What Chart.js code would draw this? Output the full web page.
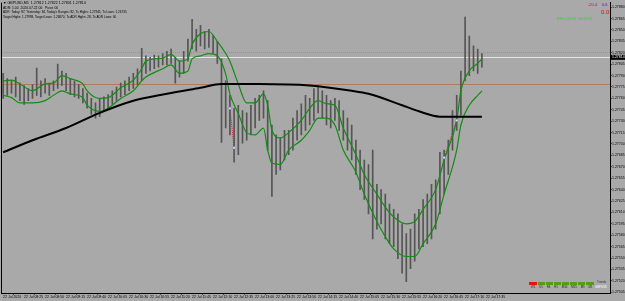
<!DOCTYPE html>
<html><head><meta charset="utf-8">
<script src="https://cdn.jsdelivr.net/npm/chart.js@4.4.0/dist/chart.umd.min.js"></script>
<style>
html,body{margin:0;padding:0;background:#a9a9a9;}
#wrap{position:relative;width:625px;height:301px;overflow:hidden;background:#a9a9a9;}
canvas{position:absolute;left:0;top:0;}
.t{position:absolute;font-family:"Liberation Sans",Arial,sans-serif;white-space:nowrap;line-height:1;}
.r{position:absolute;}
</style></head><body>
<div id="wrap">
<canvas id="c" width="625" height="301"></canvas>
<div class="t" style="left:3px;top:1.5px;font-size:3.6px;color:#000">▼ GBPUSD,M5 &nbsp;1.27812 1.27822 1.27801 1.27814</div>
<div class="t" style="left:3px;top:6.5px;font-size:3.4px;color:#000">ADR: 1.00 &nbsp;2020.07.22 00: &nbsp;Pivot: 00</div>
<div class="t" style="left:3px;top:11px;font-size:3.1px;color:#000">ADR: Today: 87, Yesterday: 84, Today's Ranges: 82, Tx Highs: 1.27945, Tx Lows: 1.26735</div>
<div class="t" style="left:3px;top:15.5px;font-size:3.1px;color:#000">Target Highs: 1.27998, Target Lows: 1.26870, Tx ADR Highs: 28, Tx ADR Lows: 60</div>
<div class="t" style="left:588px;top:3px;font-size:4px;color:#c01818">-20.4</div>
<div class="t" style="left:602px;top:3px;font-size:4px;color:#2222dd">0.6</div>
<div class="t" style="left:601px;top:8.5px;font-size:6px;color:#d01010">0.0</div>
<div class="t" style="left:557px;top:18px;font-size:3.8px;color:#22dd22">RSI:0.8256 &nbsp;94.8726</div>
<div class="r" style="left:529px;top:282px;width:8px;height:2.5px;background:#ee1111"></div>
<div class="r" style="left:538px;top:282px;width:7px;height:2.5px;background:#5a9a1a"></div>
<div class="r" style="left:546px;top:282px;width:7px;height:2.5px;background:#5a9a1a"></div>
<div class="r" style="left:554px;top:282px;width:7px;height:2.5px;background:#5a9a1a"></div>
<div class="r" style="left:562px;top:282px;width:7px;height:2.5px;background:#5a9a1a"></div>
<div class="r" style="left:570px;top:282px;width:7px;height:2.5px;background:#5a9a1a"></div>
<div class="r" style="left:578px;top:282px;width:7px;height:2.5px;background:#5a9a1a"></div>
<div class="r" style="left:586px;top:282px;width:8px;height:2.5px;background:#5a9a1a"></div>
<div class="t" style="left:597px;top:281px;font-size:3px;color:#333">Trends</div>
<div class="t" style="left:531px;top:286px;font-size:2.8px;color:#222;word-spacing:3.2px">W1 D1 H4 H1 M30 M15 M5 M1</div>
<div class="t" style="left:595px;top:286px;font-size:2.8px;color:#fff">GBPUSD</div>
</div>
<script>
// ---- data (prices) ----
const highs = [1.27793,1.27786,1.27783,1.27788,1.27780,1.27777,1.27773,1.27778,1.27800,1.27783,
1.27786,1.27780,1.27783,1.27805,1.27796,1.27793,1.27786,1.27783,1.27778,1.27773,
1.27767,1.27760,1.27754,1.27760,1.27762,1.27765,1.27770,1.27775,1.27780,1.27783,
1.27788,1.27793,1.27799,1.27826,1.27816,1.27814,1.27817,1.27816,1.27819,1.27822,
1.27825,1.27814,1.27809,1.27822,1.27838,1.27864,1.27851,1.27856,1.27848,1.27851,
1.27843,1.27835,1.27812,1.27783,1.27764,1.27747,1.27751,1.27744,1.27741,1.27751,
1.27760,1.27764,1.27770,1.27757,1.27725,1.27712,1.27708,1.27718,1.27718,1.27734,
1.27744,1.27753,1.27764,1.27760,1.27773,1.27777,1.27770,1.27764,1.27757,1.27760,
1.27757,1.27744,1.27734,1.27725,1.27705,1.27692,1.27679,1.27673,1.27692,1.27647,
1.27640,1.27634,1.27621,1.27614,1.27608,1.27595,1.27582,1.27588,1.27608,1.27614,
1.27627,1.27634,1.27647,1.27653,1.27689,1.27692,1.27705,1.27744,1.27764,1.27796,
1.27867,1.27842,1.27829,1.27825,1.27819];
const lows = [1.27760,1.27764,1.27767,1.27762,1.27757,1.27752,1.27757,1.27760,1.27764,1.27762,
1.27767,1.27764,1.27770,1.27773,1.27777,1.27770,1.27765,1.27762,1.27760,1.27754,
1.27747,1.27739,1.27734,1.27736,1.27744,1.27747,1.27752,1.27757,1.27762,1.27765,
1.27770,1.27773,1.27778,1.27783,1.27793,1.27796,1.27799,1.27801,1.27804,1.27804,
1.27806,1.27780,1.27788,1.27793,1.27809,1.27825,1.27822,1.27829,1.27825,1.27827,
1.27819,1.27806,1.27702,1.27721,1.27712,1.27676,1.27686,1.27701,1.27705,1.27712,
1.27721,1.27731,1.27734,1.27692,1.27631,1.27660,1.27666,1.27679,1.27686,1.27692,
1.27705,1.27712,1.27718,1.27725,1.27731,1.27741,1.27734,1.27725,1.27721,1.27731,
1.27718,1.27705,1.27692,1.27679,1.27660,1.27640,1.27627,1.27608,1.27575,1.27588,
1.27595,1.27575,1.27569,1.27565,1.27549,1.27530,1.27519,1.27536,1.27546,1.27562,
1.27565,1.27569,1.27575,1.27588,1.27608,1.27634,1.27660,1.27692,1.27718,1.27738,
1.27783,1.27790,1.27796,1.27793,1.27801];
const envIdx = [0,2,4,7,10,12,14,16,19,20,23,25,28,31,33,34,38,40,42,44,45,47,49,51,53,54,56,58,60,62,63,64,66,68,71,73,75,77,79,81,84,86,89,91,93,96,98,100,103,105,108,109,111,113,114];
const envUp = [1.27783,1.27784,1.27779,1.27770,1.27779,1.27780,1.27790,1.27786,1.27779,1.27770,
1.27760,1.27761,1.27774,1.27784,1.27799,1.27809,1.27813,1.27818,1.27809,1.27812,
1.27831,1.27845,1.27848,1.27835,1.27819,1.27809,1.27779,1.27754,1.27754,1.27766,
1.27751,1.27718,1.27708,1.27715,1.27731,1.27747,1.27757,1.27753,1.27751,1.27721,
1.27686,1.27660,1.27634,1.27617,1.27604,1.27595,1.27598,1.27614,1.27640,1.27679,
1.27731,1.27770,1.27796,1.27806,1.27812];
const envLo = [1.27764,1.27761,1.27754,1.27754,1.27757,1.27764,1.27770,1.27766,1.27761,1.27751,
1.27743,1.27747,1.27760,1.27770,1.27783,1.27788,1.27799,1.27804,1.27793,1.27796,
1.27812,1.27816,1.27819,1.27816,1.27792,1.27766,1.27740,1.27715,1.27712,1.27721,
1.27692,1.27675,1.27673,1.27692,1.27705,1.27718,1.27734,1.27734,1.27725,1.27692,
1.27663,1.27634,1.27598,1.27578,1.27562,1.27552,1.27552,1.27569,1.27595,1.27634,
1.27692,1.27725,1.27751,1.27764,1.27770];
const maIdx = [0,7,15,23,31,39,47,52,56,61,73,83,87,95,99,104,109,114];
const ma = [1.27689,1.27705,1.27721,1.27741,1.27757,1.27766,1.27774,1.27779,1.27779,1.27779,1.27777,1.27770,1.27766,1.27751,1.27743,1.27736,1.27736,1.27736];
const markIdx = [54,55,105,108];
const markPrice = [1.27747,1.27695,1.27682,1.27731];
const levelValues = [1.27821,1.27814,1.27779];   // ask-line, bid-line, pivot
const bidPrice = 1.27814;
const yTicks = [1.27880,1.27865,1.27850,1.27835,1.27820,1.27805,1.27790,1.27775,1.27760,1.27745,
1.27730,1.27715,1.27700,1.27685,1.27670,1.27655,1.27640,1.27625,1.27610,1.27595,
1.27580,1.27565,1.27550,1.27535,1.27520,1.27505];
const tickLabels = ["22 Jul 2020","22 Jul 08:25","22 Jul 08:50","22 Jul 09:15","22 Jul 09:40","22 Jul 10:05",
"22 Jul 10:30","22 Jul 10:55","22 Jul 11:20","22 Jul 11:45","22 Jul 12:10","22 Jul 12:35","22 Jul 13:00",
"22 Jul 13:25","22 Jul 13:50","22 Jul 14:15","22 Jul 14:40","22 Jul 15:05","22 Jul 15:30","22 Jul 15:55",
"22 Jul 16:20","22 Jul 16:45","22 Jul 17:10","22 Jul 17:35"];
const slots = 145;

// ---- build ----
const cats = Array.from({length:slots},(_,i)=>i);
function sparse(idx, vals){const a=new Array(slots).fill(null); idx.forEach((k,j)=>{a[k]=vals[j];}); return a;}
const FONT = {family:'"Liberation Sans", Arial, sans-serif', size:3.5};

const levelPlugin = {
  id:'levels',
  beforeDatasetsDraw(chart){
    const {ctx, chartArea:a, scales:{y}} = chart;
    const styles = [{c:'#8c90cc',d:[1,1],w:1},{c:'#e4e4e4',d:[],w:1},{c:'#b27a66',d:[],w:1}];
    ctx.save();
    levelValues.forEach((v,i)=>{
      const py = Math.round(y.getPixelForValue(v))+0.5;
      ctx.strokeStyle=styles[i].c; ctx.lineWidth=styles[i].w; ctx.setLineDash(styles[i].d);
      ctx.beginPath(); ctx.moveTo(a.left,py); ctx.lineTo(a.right,py); ctx.stroke();
    });
    ctx.strokeStyle='#d02020'; ctx.setLineDash([1,1]);
    const x = chart.scales.x;
    for(let k=0;k<markIdx.length;k+=2){
      ctx.beginPath();
      ctx.moveTo(x.getPixelForValue(markIdx[k]), y.getPixelForValue(markPrice[k]));
      ctx.lineTo(x.getPixelForValue(markIdx[k+1]), y.getPixelForValue(markPrice[k+1]));
      ctx.stroke();
    }
    ctx.restore();
  },
  afterDraw(chart){
    const {ctx, chartArea:a, scales:{y}} = chart;
    ctx.save();
    ctx.strokeStyle='#000'; ctx.lineWidth=1;
    ctx.beginPath(); ctx.moveTo(a.left+0.5,a.top); ctx.lineTo(a.left+0.5,a.bottom); ctx.stroke();
    const py = y.getPixelForValue(bidPrice);
    ctx.fillStyle='#000'; ctx.fillRect(a.right+1, py-2.5, 14, 5);
    ctx.fillStyle='#fff'; ctx.font='3.5px "Liberation Sans", Arial, sans-serif';
    ctx.textBaseline='middle'; ctx.fillText(bidPrice.toFixed(5), a.right+2, py);
    ctx.restore();
  }
};

new Chart(document.getElementById('c'),{
  type:'bar',
  data:{labels:cats, datasets:[
    {type:'bar', data:highs.map((h,i)=>[lows[i],h]), backgroundColor:'#555555', barThickness:1, grouped:false, order:5},
    {type:'line', data:sparse(envIdx,envUp), borderColor:'#138c13', borderWidth:1.2, pointRadius:0, spanGaps:true, cubicInterpolationMode:'monotone', order:2},
    {type:'line', data:sparse(envIdx,envLo), borderColor:'#138c13', borderWidth:1.2, pointRadius:0, spanGaps:true, cubicInterpolationMode:'monotone', order:2},
    {type:'line', data:sparse(maIdx,ma), borderColor:'#000', borderWidth:2, pointRadius:0, spanGaps:true, cubicInterpolationMode:'monotone', order:1},
    {type:'line', data:sparse(markIdx,markPrice), showLine:false, pointRadius:1.6, pointStyle:'rect', pointBackgroundColor:'#f4f4f4', pointBorderColor:'#7a7ad0', pointBorderWidth:0.6, order:0}
  ]},
  options:{
    responsive:false, animation:false, devicePixelRatio:1,
    layout:{autoPadding:false, padding:{left:1,top:1,right:0,bottom:0}},
    plugins:{legend:{display:false}, tooltip:{enabled:false}},
    scales:{
      x:{type:'category', offset:true,
        grid:{display:true, drawOnChartArea:false, drawTicks:true, tickLength:1.5, color:'#000'},
        border:{display:true, color:'#000', width:1},
        ticks:{autoSkip:false, maxRotation:0, minRotation:0, font:FONT, color:'#000', padding:0.5, align:'start',
          callback:(v,i)=> (i%5===0 && tickLabels[i/5]!==undefined) ? tickLabels[i/5] : null},
        afterFit:s=>{s.height=8;}},
      y:{position:'right', min:1.27504, max:1.27886,
        afterBuildTicks:s=>{s.ticks=yTicks.map(v=>({value:v}));},
        grid:{display:true, drawOnChartArea:false, drawTicks:true, tickLength:1.5, color:'#000'},
        border:{display:true, color:'#000', width:1},
        ticks:{font:FONT, color:'#000', padding:0.5, callback:v=>Number(v).toFixed(5)},
        afterFit:s=>{s.width=15;}}
    }
  },
  plugins:[levelPlugin]
});
</script>
</body></html>
